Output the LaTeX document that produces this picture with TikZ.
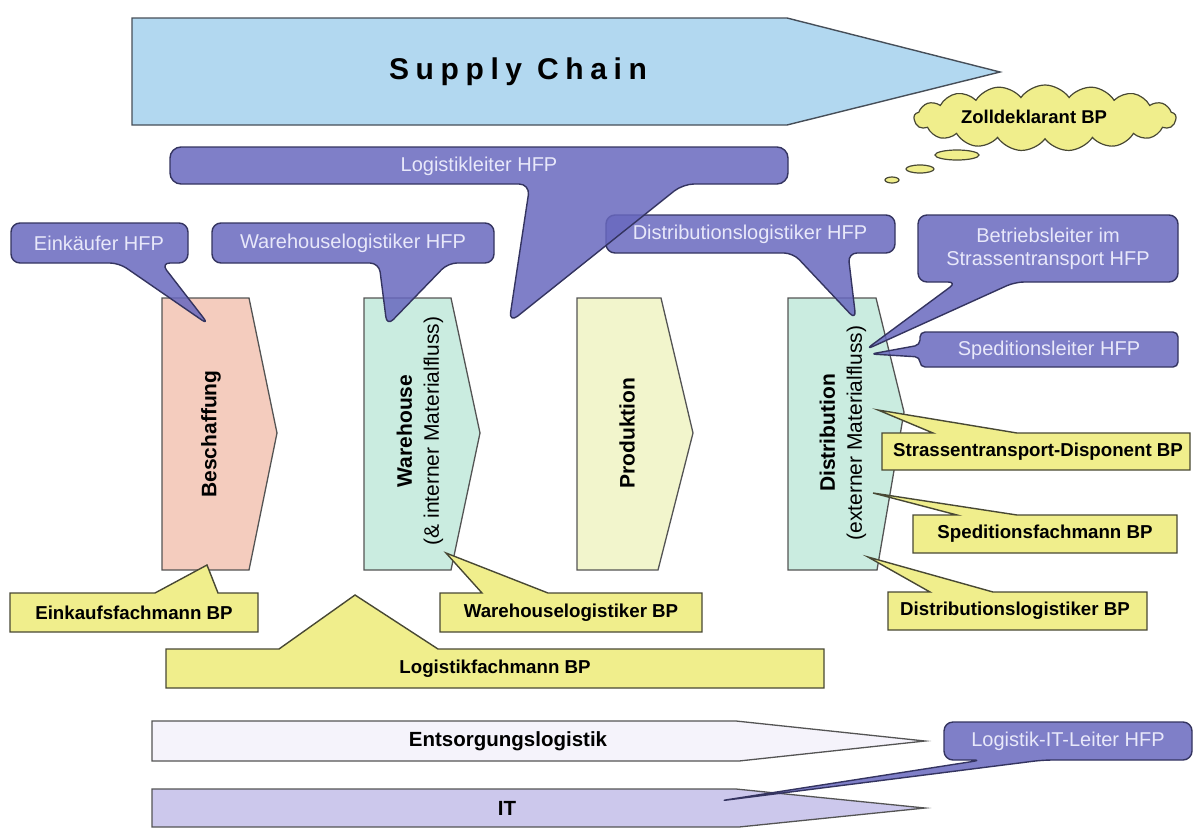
\documentclass[tikz,border=0pt]{standalone}
\usepackage{fontspec}
\setmainfont{Liberation Sans}
\usepackage{tikz}
\usetikzlibrary{shapes.symbols}

\definecolor{chainblue}{RGB}{178,216,240}
\definecolor{chainline}{RGB}{70,78,88}
\definecolor{hfpfill}{RGB}{104,104,190}
\definecolor{hfpline}{RGB}{52,52,96}
\definecolor{hfptext}{RGB}{232,232,250}
\definecolor{bpfill}{RGB}{240,238,140}
\definecolor{bpline}{RGB}{72,72,52}
\definecolor{stageline}{RGB}{84,84,84}
\definecolor{pinkfill}{RGB}{244,204,190}
\definecolor{mintfill}{RGB}{202,236,224}
\definecolor{palefill}{RGB}{242,245,204}
\definecolor{wastefill}{RGB}{245,243,251}
\definecolor{itfill}{RGB}{204,200,236}

\begin{document}
\begin{tikzpicture}[x=1pt, y=-1pt,
    stage/.style={draw=stageline, line width=1.3pt},
    stage text/.style={rotate=90, align=center, font=\bfseries\fontsize{21}{27}\selectfont},
    band text/.style={font=\bfseries\fontsize{20.5}{24}\selectfont},
    hfp/.style={fill=hfpfill, fill opacity=.85, draw=hfpline, line width=1.4pt, line join=round, rounded corners=9pt},
    hfp text/.style={text=hfptext, align=center, font=\fontsize{20}{23}\selectfont},
    bp/.style={fill=bpfill, draw=bpline, line width=1.4pt},
    bp text/.style={font=\bfseries\fontsize{18.7}{22}\selectfont}
]
\useasboundingbox (0,0) rectangle (1194,828);

% supply chain arrow
\draw[draw=chainline, fill=chainblue, line width=1.4pt]
    (132,18) -- (787,18) -- (1000,72) -- (787,125) -- (132,125) -- cycle;
\node[font=\bfseries\fontsize{30}{36}\selectfont\addfontfeature{LetterSpace=22}] (chain) at (518,72) {Supply Chain};

% process stages
\draw[stage, fill=pinkfill] (162,298) -- (249,298) -- (277,433) -- (249,570) -- (162,570) -- cycle;
\node[stage text] (besch) at (211,434) {Beschaffung};
\draw[stage, fill=mintfill] (364,298) -- (451,298) -- (480,433) -- (451,570) -- (364,570) -- cycle;
\node[stage text] (lager) at (420,431) {Warehouse\\{\mdseries(\& interner Materialfluss)}};
\draw[stage, fill=palefill] (577,298) -- (661,298) -- (693,433) -- (658,570) -- (577,570) -- cycle;
\node[stage text] (prod) at (627,433) {Produktion};
\draw[stage, fill=mintfill] (788,298) -- (876,298) -- (904,412) -- (877,570) -- (788,570) -- cycle;
\node[stage text] (distr) at (843,433) {Distribution\\{\mdseries(externer Materialfluss)}};

% support processes
\draw[stage, fill=wastefill] (152,721) -- (736,721) -- (925,741) -- (739,761) -- (152,761) -- cycle;
\node[band text] (entsorgung) at (508,741) {Entsorgungslogistik};
\draw[stage, fill=itfill] (152,789) -- (736,789) -- (925,808) -- (739,827) -- (152,827) -- cycle;
\node[band text] (it) at (507,808) {IT};

% BP callouts
\draw[bp] (10,593) -- (155,593) -- (207,565) -- (218,593) -- (258,593) -- (258,632) -- (10,632) -- cycle;
\node[bp text] (einkauf) at (134,613) {Einkaufsfachmann BP};
\draw[bp] (440,593) -- (482,593) -- (446,553) -- (548,593) -- (702,593) -- (702,632) -- (440,632) -- cycle;
\node[bp text] (lagerbp) at (571,613) {Warehouselogistiker BP};
\draw[bp] (166,649) -- (279,649) -- (355,595) -- (438,649) -- (824,649) -- (824,688) -- (166,688) -- cycle;
\node[bp text] (fachmann) at (495,669) {Logistikfachmann BP};
\draw[bp] (882,433) -- (933,433) -- (878,410) -- (1017,433) -- (1190,433) -- (1190,470) -- (882,470) -- cycle;
\node[bp text] (disponent) at (1038,452) {Strassentransport-Disponent BP};
\draw[bp] (913,515) -- (957,515) -- (873,493) -- (1017,515) -- (1177,515) -- (1177,553) -- (913,553) -- cycle;
\node[bp text] (spedbp) at (1045,534) {Speditionsfachmann BP};
\draw[bp] (888,592) -- (930,592) -- (868,557) -- (993,592) -- (1147,592) -- (1147,630) -- (888,630) -- cycle;
\node[bp text] (distrbp) at (1015,611) {Distributionslogistiker BP};

% HFP callouts
\path[hfp] (100,223) -- (188,223) -- (188,263) -- (161,263) -- (209,325) -- (119,263) -- (11,263) -- (11,223) -- cycle;
\node[hfp text] (einkaeufer) at (99,243) {Einkäufer HFP};
\path[hfp] (353,223) -- (494,223) -- (494,263) -- (448,263) -- (387,326) -- (379,263) -- (212,263) -- (212,223) -- cycle;
\node[hfp text] (lagerhfp) at (353,243) {Warehouselogistiker HFP};
\path[hfp] (750,215) -- (895,215) -- (895,253) -- (848,253) -- (856,320) -- (793,253) -- (606,253) -- (606,215) -- cycle;
\node[hfp text] (distrhfp) at (750,234) {Distributionslogistiker HFP};
\path[hfp, rounded corners=11pt] (480,147) -- (788,147) -- (788,184) -- (683,184) -- (509,323) -- (530,184) -- (170,184) -- (170,147) -- cycle;
\node[hfp text] (leiter) at (479,166) {Logistikleiter HFP};
\path[hfp] (1048,215) -- (1178,215) -- (1178,282) -- (1015,282) -- (865,350) -- (957,282) -- (918,282) -- (918,215) -- cycle;
\node[hfp text] (betrieb) at (1048,249) {Betriebsleiter im\\Strassentransport HFP};
\path[hfp, rounded corners=5pt] (1049,332) -- (1178,332) -- (1178,367) -- (920,367) -- (920,357) -- (871,354) -- (920,345) -- (920,332) -- cycle;
\node[hfp text] (spedhfp) at (1049,350) {Speditionsleiter HFP};
\path[hfp] (1068,722) -- (1192,722) -- (1192,760) -- (1043,760) -- (719,801) -- (982,760) -- (944,760) -- (944,722) -- cycle;
\node[hfp text] (ithfp) at (1068,741) {Logistik-IT-Leiter HFP};

% thought cloud
\node[cloud, cloud puffs=17, cloud puff arc=110, cloud ignores aspect, minimum width=262pt, minimum height=66pt, inner sep=0pt,
      fill=bpfill, draw=bpline, line width=1.2pt] (zoll) at (1045,118) {};
\node[font=\bfseries\fontsize{18.5}{22}\selectfont] (zolltext) at (1034,117) {Zolldeklarant BP};
\draw[bp, line width=1.2pt] (957,155) ellipse [x radius=22pt, y radius=5pt];
\draw[bp, line width=1.2pt] (920,169) ellipse [x radius=14pt, y radius=4pt];
\draw[bp, line width=1.2pt] (892,180) ellipse [x radius=7pt, y radius=3pt];
\end{tikzpicture}
\end{document}
